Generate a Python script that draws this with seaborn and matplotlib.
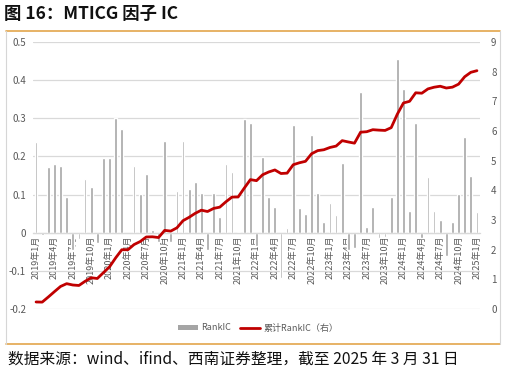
import matplotlib
matplotlib.use("Agg")
import matplotlib.pyplot as plt
import seaborn as sns
import pandas as pd
import numpy as np
from matplotlib.lines import Line2D
from matplotlib.patches import Patch

# ---------------- data ----------------
months = [f"{y}年{m}月" for y in range(2019, 2026) for m in range(1, 13)][:73]

rank_ic = [0.237, -0.005, 0.173, 0.180, 0.175, 0.094, -0.045, -0.016, 0.140, 0.121,
           -0.026, 0.197, 0.197, 0.302, 0.273, 0.000, 0.175, 0.101, 0.155, 0.006,
           -0.025, 0.241, -0.024, 0.110, 0.241, 0.115, 0.134, 0.105, -0.045, 0.105,
           0.042, 0.180, 0.160, 0.003, 0.298, 0.287, -0.035, 0.199, 0.094, 0.068,
           -0.120, 0.013, 0.283, 0.066, 0.049, 0.256, 0.105, 0.029, 0.077, 0.047,
           0.183, -0.045, -0.040, 0.370, 0.016, 0.068, -0.015, -0.010, 0.094, 0.455,
           0.377, 0.056, 0.287, -0.014, 0.145, 0.057, 0.033, -0.060, 0.029, 0.101,
           0.250, 0.149, 0.055]

cum_rank_ic = [0.237, 0.232, 0.405, 0.585, 0.760, 0.854, 0.809, 0.793, 0.933, 1.054,
               1.028, 1.225, 1.422, 1.724, 1.997, 1.997, 2.172, 2.273, 2.428, 2.434,
               2.409, 2.650, 2.626, 2.736, 2.977, 3.092, 3.226, 3.331, 3.286, 3.391,
               3.433, 3.613, 3.773, 3.776, 4.074, 4.361, 4.326, 4.525, 4.619, 4.687,
               4.567, 4.580, 4.863, 4.929, 4.978, 5.234, 5.339, 5.368, 5.445, 5.492,
               5.675, 5.630, 5.590, 5.960, 5.976, 6.044, 6.029, 6.019, 6.113, 6.568,
               6.945, 7.001, 7.288, 7.274, 7.419, 7.476, 7.509, 7.449, 7.478, 7.579,
               7.829, 7.978, 8.033]

left_ticks = [-0.2, -0.1, 0.0, 0.1, 0.2, 0.3, 0.4, 0.5]
left_labels = ["-0.2", "-0.1", "0", "0.1", "0.2", "0.3", "0.4", "0.5"]
right_ticks = [0, 1, 2, 3, 4, 5, 6, 7, 8, 9]

title = "图 16：MTICG 因子 IC"
source = "数据来源：wind、ifind、西南证券整理，截至 2025 年 3 月 31 日"
bar_name = "RankIC"
line_name = "累计RankIC（右）"

# ---------------- style ----------------
sns.set_theme(style="white")
plt.rcParams["font.family"] = ["Noto Sans CJK SC", "DejaVu Sans"]

GRAY_TXT = "#595959"
BAR_C = "#A5A5A5"
LINE_C = "#C00000"
GRID_C = "#D9D9D9"
ORANGE = "#E3A64B"

fig = plt.figure(figsize=(5.08, 3.77), dpi=100)

df = pd.DataFrame({"month": months, "RankIC": rank_ic, "cum": cum_rank_ic})
df["pos"] = np.arange(len(df))

ax = fig.add_axes([33 / 508, 1 - 309 / 377, (480 - 33) / 508, (309 - 42) / 377])
sns.barplot(data=df, x="month", y="RankIC", color=BAR_C, saturation=1,
            width=0.45, ax=ax, zorder=2)
ax.set_xlim(-0.5, len(df) - 0.5)
ax.set_ylim(-0.2, 0.5)
ax.set_yticks(left_ticks)
ax.set_yticklabels(left_labels)
ax.grid(axis="y", color=GRID_C, lw=0.9)
ax.set_axisbelow(True)
for s in ["top", "right", "left"]:
    ax.spines[s].set_visible(False)
ax.spines["bottom"].set_position(("data", 0))
ax.spines["bottom"].set_color(GRID_C)
ax.spines["bottom"].set_linewidth(0.9)
tick_pos = list(range(0, len(df), 3))
ax.set_xticks(tick_pos)
ax.set_xticklabels([months[i] for i in tick_pos], rotation=90, fontsize=6.5,
                   color=GRAY_TXT, va="top", ha="center")
ax.tick_params(axis="x", length=0, pad=2)
ax.tick_params(axis="y", length=0, pad=5, labelsize=7, labelcolor=GRAY_TXT)
ax.set_xlabel("")
ax.set_ylabel("")

ax2 = ax.twinx()
sns.lineplot(data=df, x="pos", y="cum", color=LINE_C, lw=2, ax=ax2, zorder=3)
ax2.set_ylim(0, 9)
ax2.set_yticks(right_ticks)
ax2.tick_params(axis="y", length=0, pad=8, labelsize=7, labelcolor=GRAY_TXT)
for s in ax2.spines.values():
    s.set_visible(False)
ax2.set_xlabel("")
ax2.set_ylabel("")
ax2.set_xlim(-0.5, len(df) - 0.5)

handles = [Patch(facecolor=BAR_C, edgecolor="none"),
           Line2D([0], [0], color=LINE_C, lw=2)]
fig.legend(handles, [bar_name, line_name], loc="center", bbox_to_anchor=(258 / 508, 1 - 328 / 377),
           ncol=2, frameon=False, fontsize=6.5, labelcolor=GRAY_TXT,
           handlelength=2.2, handleheight=0.5, columnspacing=1.0, handletextpad=0.4)

# frame lines
fig.add_artist(Line2D([6 / 508, 500 / 508], [1 - 31 / 377, 1 - 31 / 377], color=ORANGE, lw=1.2))
fig.add_artist(Line2D([6 / 508, 500 / 508], [1 - 344 / 377, 1 - 344 / 377], color=ORANGE, lw=1.2))
fig.add_artist(Line2D([6 / 508, 6 / 508], [1 - 31 / 377, 1 - 344 / 377], color="#D6D6D6", lw=0.8))
fig.add_artist(Line2D([500 / 508, 500 / 508], [1 - 31 / 377, 1 - 344 / 377], color="#D6D6D6", lw=0.8))

fig.text(4 / 508, 1 - 14 / 377, title, fontsize=12.5, fontweight="bold", color="#111111",
         va="center", ha="left")
fig.text(8 / 508, 1 - 359 / 377, source, fontsize=11.3, style="italic", color="#111111",
         va="center", ha="left")

fig.savefig("out.png", dpi=100)
